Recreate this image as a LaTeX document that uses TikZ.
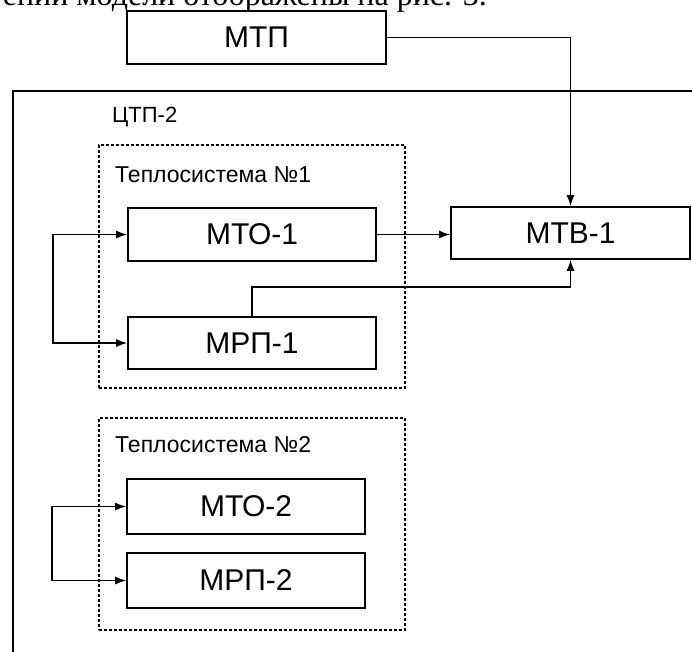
\documentclass[tikz,border=0pt]{standalone}
\usepackage{fontspec}
\setmainfont{Liberation Sans}
\newfontfamily\serifpage{Liberation Serif}
\usetikzlibrary{arrows.meta}
\begin{document}
\begin{tikzpicture}[x=1pt,y=-1pt,
  box/.style={draw, line width=1.6pt, rectangle, inner sep=0pt, font=\fontsize{30}{32}\selectfont},
  dotbox/.style={draw, line width=1.3pt, dash pattern=on 3pt off 2pt, rectangle, inner sep=0pt},
  lbl/.style={inner sep=0pt, anchor=base west, font=\fontsize{23}{26}\selectfont},
  conn/.style={line width=1.5pt},
  arr/.style={conn, -{Latex[length=11pt,width=8pt]}},
  darr/.style={conn, {Latex[length=11pt,width=8pt]}-{Latex[length=11pt,width=8pt]}}]
\useasboundingbox (0,0) rectangle (692,651);
\clip (0,0) rectangle (692,651);
\node[anchor=base east, inner sep=0pt, font=\serifpage\fontsize{32}{34}\selectfont] (cap) at (487,5) {ении модели отображены на рис. 3.};
% outer frame ЦТП-2
\coordinate (fr) at (720,91);
\coordinate (fc) at (13,91);
\coordinate (fb) at (13,680);
\draw[conn] (fr) -- (fc) -- (fb);
\node[lbl, font=\fontsize{22}{24}\selectfont] (ctp) at (112,122) {ЦТП-2};
% dotted groups
\node[dotbox, minimum width=306, minimum height=243] (sys1) at (252,266.5) {};
\node[lbl] (sys1l) at (115,182) {Теплосистема №1};
\node[dotbox, minimum width=306, minimum height=212] (sys2) at (252,524) {};
\node[lbl] (sys2l) at (115,452) {Теплосистема №2};
% boxes
\node[box, minimum width=259, minimum height=53] (mtp) at (256.5,37.5) {МТП};
\node[box, minimum width=248, minimum height=53] (mto1) at (252,234.5) {МТО-1};
\node[box, minimum width=248, minimum height=52] (mrp1) at (252,343) {МРП-1};
\node[box, minimum width=239, minimum height=52] (mtb1) at (570.5,233) {МТВ-1};
\node[box, minimum width=238, minimum height=55] (mto2) at (246,506.5) {МТО-2};
\node[box, minimum width=238, minimum height=55] (mrp2) at (246,580.5) {МРП-2};
% connectors
\draw[arr] (mtp.east) -| (mtb1.north);
\draw[arr] (mto1.east) -- (mto1.east -| mtb1.west);
\draw[arr] (mrp1.north) -- ++(0,-29) -| (mtb1.south);
\draw[darr] (mto1.west) -- ++(-74,0) |- (mrp1.west);
\draw[darr] (mto2.west) -- ++(-74,0) |- (mrp2.west);
\end{tikzpicture}
\end{document}
